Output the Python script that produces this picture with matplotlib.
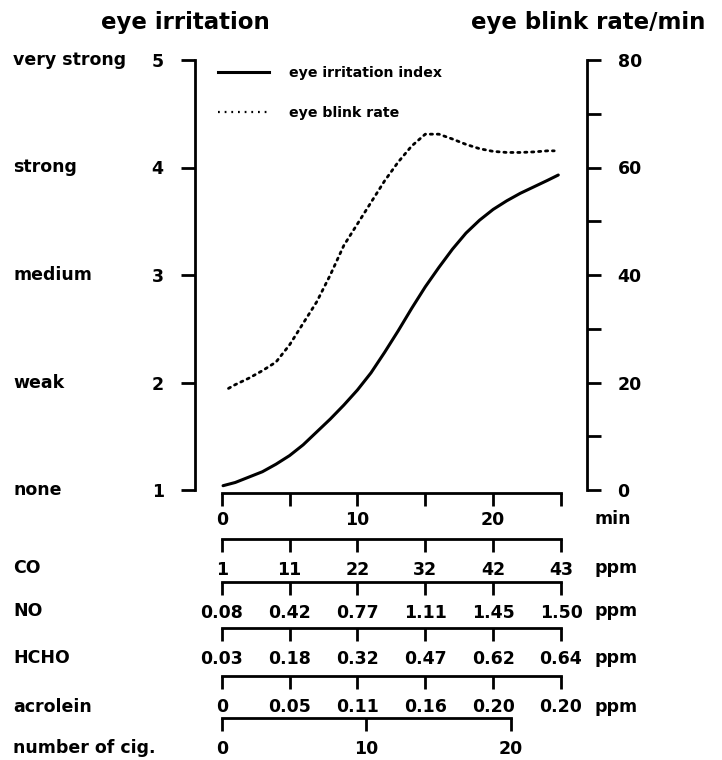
import matplotlib
matplotlib.use("Agg")
import matplotlib.pyplot as plt
import matplotlib.transforms as mtransforms
from matplotlib.lines import Line2D
from matplotlib.ticker import FixedLocator, FixedFormatter

plt.rcParams['font.family'] = ['DejaVu Sans']
plt.rcParams['font.weight'] = 'bold'

# ---------------- data ----------------
irr_time = [0.1, 1, 2, 3, 4, 5, 6, 7, 8, 9, 10, 11, 12, 13, 14, 15, 16, 17,
            18, 19, 20, 21, 22, 23, 24, 24.8]
irr_index = [1.04, 1.07, 1.12, 1.17, 1.24, 1.32, 1.42, 1.54, 1.66, 1.79,
             1.93, 2.09, 2.28, 2.48, 2.69, 2.89, 3.07, 3.24, 3.39, 3.51,
             3.61, 3.69, 3.76, 3.82, 3.88, 3.93]

blink_time = [0.5, 1, 2, 3, 4, 5, 6, 7, 8, 9, 10, 11, 12, 13, 14, 15, 16,
              17, 18, 19, 20, 21, 22, 23, 24, 24.5]
blink_rate = [18.9, 19.6, 20.8, 22.2, 23.8, 27.0, 31.0, 35.0, 40.0, 45.5,
              49.5, 53.5, 57.5, 61.0, 64.0, 66.2, 66.2, 65.3, 64.3, 63.5,
              63.0, 62.8, 62.8, 62.9, 63.1, 63.1]

irr_levels = [1, 2, 3, 4, 5]
irr_words = ["none", "weak", "medium", "strong", "very strong"]
blink_ticks = [0, 20, 40, 60, 80]
blink_minor = [10, 30, 50, 70]

min_ticks = [0, 5, 10, 15, 20, 25]
min_labels = ["0", "", "10", "", "20", ""]
co_ppm = ["1", "11", "22", "32", "42", "43"]
no_ppm = ["0.08", "0.42", "0.77", "1.11", "1.45", "1.50"]
hcho_ppm = ["0.03", "0.18", "0.32", "0.47", "0.62", "0.64"]
acrolein_ppm = ["0", "0.05", "0.11", "0.16", "0.20", "0.20"]
cig_ticks = [0, 10, 20]
cig_labels = ["0", "10", "20"]

FS = 12.5

# ---------------- layout ----------------
W, H = 722, 760
fig = plt.figure(figsize=(W / 100, H / 100), dpi=100)
fig.patch.set_facecolor("white")

ax_left_px, ax_right_px = 195, 587
ax_top_px, ax_bot_px = 60, 490
min_x0_px, min_x25_px = 221.7, 561.0
ppm_min = (min_x25_px - min_x0_px) / 25
xlim_min = ((ax_left_px - min_x0_px) / ppm_min, (ax_right_px - min_x0_px) / ppm_min)
cig_x20_px = 511.0
ppc = (cig_x20_px - min_x0_px) / 20
xlim_cig = ((ax_left_px - min_x0_px) / ppc, (ax_right_px - min_x0_px) / ppc)


def fx(px):
    return px / W


def fy(px):
    return 1 - px / H


ax = fig.add_axes([fx(ax_left_px), fy(ax_bot_px), fx(ax_right_px - ax_left_px),
                   (ax_bot_px - ax_top_px) / H])
ax.set_facecolor("none")
ax.set_xlim(*xlim_min)
ax.set_ylim(1, 5)
for s in ["top", "right"]:
    ax.spines[s].set_visible(False)
ax.spines["left"].set_linewidth(2)
ax.spines["left"].set_bounds(1, 5)
ax.spines["bottom"].set_linewidth(2)
ax.spines["bottom"].set_bounds(0, 25)
ax.spines["bottom"].set_position(("outward", 2))
ax.set_yticks(irr_levels)
ax.set_yticklabels([str(v) for v in irr_levels])
ax.tick_params(axis="y", direction="out", length=10, width=2, pad=12.5, labelsize=FS)
ax.set_xticks(min_ticks)
ax.set_xticklabels(min_labels)
ax.tick_params(axis="x", direction="out", length=9, width=2, pad=4, labelsize=FS)

ax2 = ax.twinx()
ax2.set_ylim(0, 80)
for s in ["top", "left", "bottom"]:
    ax2.spines[s].set_visible(False)
ax2.spines["right"].set_linewidth(2)
ax2.spines["right"].set_bounds(0, 80)
ax2.set_yticks(blink_ticks)
ax2.set_yticks(blink_minor, minor=True)
ax2.tick_params(axis="y", which="both", direction="out", length=10, width=2, pad=12,
                labelsize=FS)

ax.plot(irr_time, irr_index, color="black", lw=2.2, solid_capstyle="round")
ax2.plot(blink_time, blink_rate, color="black", lw=2.0,
         linestyle=(0, (0.8, 1.7)), dash_capstyle="round")

leg_h1 = Line2D([], [], color="black", lw=2.2)
leg_h2 = Line2D([], [], color="black", lw=1.6, linestyle=(0, (0.8, 2.2)))
ax.legend([leg_h1, leg_h2], ["eye irritation index", "eye blink rate"],
          loc="upper left", bbox_to_anchor=(fx(218), fy(66)),
          bbox_transform=fig.transFigure, frameon=False, borderpad=0,
          borderaxespad=0, handlelength=3.6, handletextpad=1.4,
          labelspacing=1.85, prop={"size": 10.2, "weight": "bold"})

# titles
fig.text(fx(185), fy(23), "eye irritation", ha="center", va="center",
         fontsize=16.5, fontweight="bold")
fig.text(fx(588), fy(23), "eye blink rate/min", ha="center", va="center",
         fontsize=16.5, fontweight="bold")

# category words on left
blend = mtransforms.blended_transform_factory(fig.transFigure, ax.transData)
for lvl, word in zip(irr_levels, irr_words):
    ax.text(fx(13), lvl, word, transform=blend, ha="left", va="center",
            fontsize=FS, fontweight="bold")

fig.text(fx(594), fy(519), "min", ha="left", va="center", fontsize=FS,
         fontweight="bold")


def make_row(line_px, label_px, name, ticks, labels, xlim, bound, unit):
    a = fig.add_axes([fx(ax_left_px), fy(line_px), fx(ax_right_px - ax_left_px), 0.0005])
    a.set_facecolor("none")
    a.set_xlim(*xlim)
    a.set_yticks([])
    for s in ["top", "left", "right"]:
        a.spines[s].set_visible(False)
    a.spines["bottom"].set_linewidth(2)
    a.spines["bottom"].set_bounds(*bound)
    a.xaxis.set_major_locator(FixedLocator(ticks))
    a.xaxis.set_major_formatter(FixedFormatter(labels))
    a.tick_params(axis="x", direction="out", length=9, width=2, pad=7, labelsize=FS)
    fig.text(fx(13), fy(label_px), name, ha="left", va="center", fontsize=FS,
             fontweight="bold")
    if unit:
        fig.text(fx(594), fy(label_px), unit, ha="left", va="center",
                 fontsize=FS, fontweight="bold")
    return a


make_row(539, 568, "CO", min_ticks, co_ppm, xlim_min, (0, 25), "ppm")
make_row(582, 611, "NO", min_ticks, no_ppm, xlim_min, (0, 25), "ppm")
make_row(628, 658, "HCHO", min_ticks, hcho_ppm, xlim_min, (0, 25), "ppm")
make_row(676, 707, "acrolein", min_ticks, acrolein_ppm, xlim_min, (0, 25), "ppm")
make_row(718, 748, "number of cig.", cig_ticks, cig_labels, xlim_cig, (0, 20), None)

fig.savefig("out.png", dpi=100, facecolor="white")
